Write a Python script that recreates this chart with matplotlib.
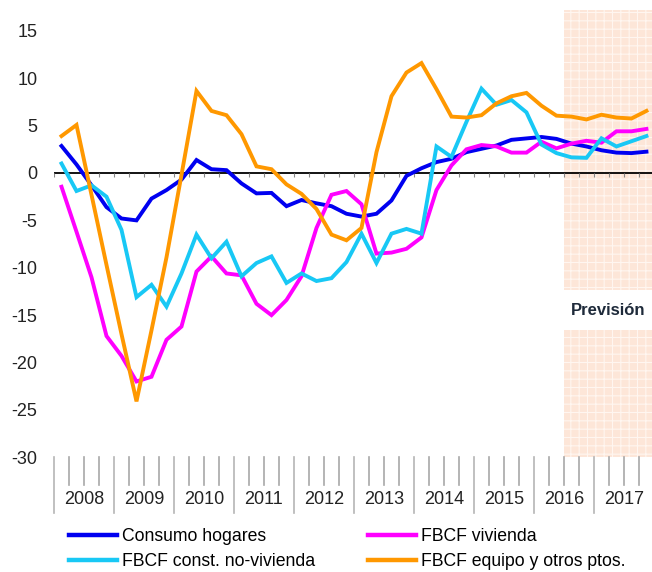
import numpy as np
import matplotlib
matplotlib.use('Agg')
import matplotlib.pyplot as plt
import matplotlib.transforms as mtransforms
from matplotlib.patches import Rectangle

plt.rcParams['font.family'] = ['Liberation Sans', 'DejaVu Sans']
plt.rcParams['hatch.linewidth'] = 0.8

# ---------------- data ----------------
years = list(range(2008, 2018))
quarters = [f"{y}T{q}" for y in years for q in range(1, 5)]
forecast_start = "2016T3"

consumo_hogares = [2.85, 0.9, -1.3, -3.6, -4.8, -5.0, -2.7, -1.8, -0.7, 1.37,
                   0.4, 0.3, -1.1, -2.15, -2.1, -3.5, -2.85, -3.2, -3.5, -4.3,
                   -4.6, -4.3, -2.9, -0.3, 0.5, 1.15, 1.5, 2.2, 2.55, 2.9,
                   3.5, 3.65, 3.8, 3.6, 3.1, 2.8, 2.4, 2.15, 2.1, 2.25]
fbcf_vivienda = [-1.45, -6.2, -11.0, -17.2, -19.3, -22.0, -21.5, -17.6, -16.2, -10.4,
                 -8.8, -10.6, -10.8, -13.8, -15.0, -13.4, -10.9, -5.8, -2.3, -1.9,
                 -3.3, -8.5, -8.4, -8.0, -6.8, -1.8, 0.8, 2.5, 2.95, 2.8,
                 2.15, 2.15, 3.3, 2.6, 3.1, 3.4, 3.2, 4.4, 4.4, 4.65]
fbcf_no_vivienda = [1.0, -1.9, -1.3, -2.5, -6.0, -13.1, -11.8, -14.1, -10.6, -6.5,
                    -9.0, -7.25, -10.9, -9.5, -8.8, -11.6, -10.6, -11.4, -11.1, -9.4,
                    -6.4, -9.5, -6.4, -5.9, -6.4, 2.8, 1.7, 5.4, 8.9, 7.2,
                    7.7, 6.4, 3.0, 2.1, 1.65, 1.6, 3.66, 2.8, 3.35, 3.9]
fbcf_equipo = [3.9, 5.07, -2.3, -9.7, -17.0, -24.1, -16.6, -8.9, -0.2, 8.66,
               6.55, 6.1, 4.1, 0.7, 0.4, -1.2, -2.2, -3.8, -6.5, -7.1,
               -5.8, 2.2, 8.1, 10.6, 11.6, 8.85, 5.95, 5.85, 6.1, 7.35,
               8.1, 8.45, 7.1, 6.05, 5.95, 5.65, 6.15, 5.85, 5.75, 6.55]

labels = ["Consumo hogares", "FBCF vivienda",
          "FBCF const. no-vivienda", "FBCF equipo y otros ptos."]
colors = ["#0000f0", "#ff00ff", "#18c8f5", "#ff9800"]
yticks = [-30, -25, -20, -15, -10, -5, 0, 5, 10, 15]

# ---------------- figure ----------------
fig = plt.figure(figsize=(6.52, 5.72), dpi=100)
ax = fig.add_axes([54 / 652, 1 - 457.3 / 572, 598 / 652, 447.3 / 572])

x = np.arange(len(quarters))
ymin, ymax = -30, 17.2
ax.set_xlim(-0.5, 39.37)
ax.set_ylim(ymin, ymax)

# forecast shading with gap for label
fs = quarters.index(forecast_start) - 0.5
gap_lo, gap_hi = -16.6, -12.35
shade_kw = dict(facecolor="#fde6d8", edgecolor="#fff6f0", hatch="++", lw=0, zorder=0)
ax.add_patch(Rectangle((fs, ymin), 10, gap_lo - ymin, **shade_kw))
ax.add_patch(Rectangle((fs, gap_hi), 10, ymax - gap_hi + 1, **shade_kw))
ax.text((fs + 39.37) / 2, (gap_lo + gap_hi) / 2, "Previsión", ha="center",
        va="center", fontsize=12, fontweight="bold", color="#1e2a3a", zorder=5)

# zero line with small quarter ticks
ax.axhline(0, color="black", lw=1.3, zorder=2)
bounds = np.arange(-0.5, len(quarters) + 0.5, 1)
ax.vlines(bounds, -0.45, 0, color="#888888", lw=0.8, zorder=2)

# series
series = [consumo_hogares, fbcf_vivienda, fbcf_no_vivienda, fbcf_equipo]
handles = []
for vals, lab, col in zip(series, labels, colors):
    h, = ax.plot(x, vals, color=col, lw=2.8, label=lab, zorder=3,
                 solid_joinstyle="miter")
    handles.append(h)

# y axis
ax.set_yticks(yticks)
ax.set_yticklabels([str(t) for t in yticks], fontsize=13, color="#222222")
ax.tick_params(axis="y", length=0, pad=12)
ax.set_xticks([])
for s in ax.spines.values():
    s.set_visible(False)

# bottom quarter / year lines and year labels
trans = mtransforms.blended_transform_factory(ax.transData, ax.transAxes)
h_ax = 447.3
for i, b in enumerate(bounds[:-1]):
    if i % 4 == 0:
        ax.plot([b, b], [0, -(513 - 457.3) / h_ax], transform=trans,
                color="#b5b5b5", lw=1.2, clip_on=False)
    else:
        ax.plot([b, b], [0, -(485 - 457.3) / h_ax], transform=trans,
                color="#a8a8a8", lw=1.2, clip_on=False)
for j, yr in enumerate(years):
    ax.text(j * 4 + 1.5, -(500 - 457.3) / h_ax, str(yr), transform=trans,
            ha="center", va="center", fontsize=13, color="#222222")

# legend
order = [0, 2, 1, 3]
leg = fig.legend([handles[i] for i in order], [labels[i] for i in order],
                 ncol=2, loc="upper left", bbox_to_anchor=(69 / 652, 1 - 528 / 572),
                 frameon=False, fontsize=12.7, handlelength=2.7, handletextpad=0.3,
                 columnspacing=3.0, labelspacing=0.47, borderpad=0, borderaxespad=0)
for lh in leg.get_lines():
    lh.set_linewidth(3.2)

fig.savefig("out.png", dpi=100)
